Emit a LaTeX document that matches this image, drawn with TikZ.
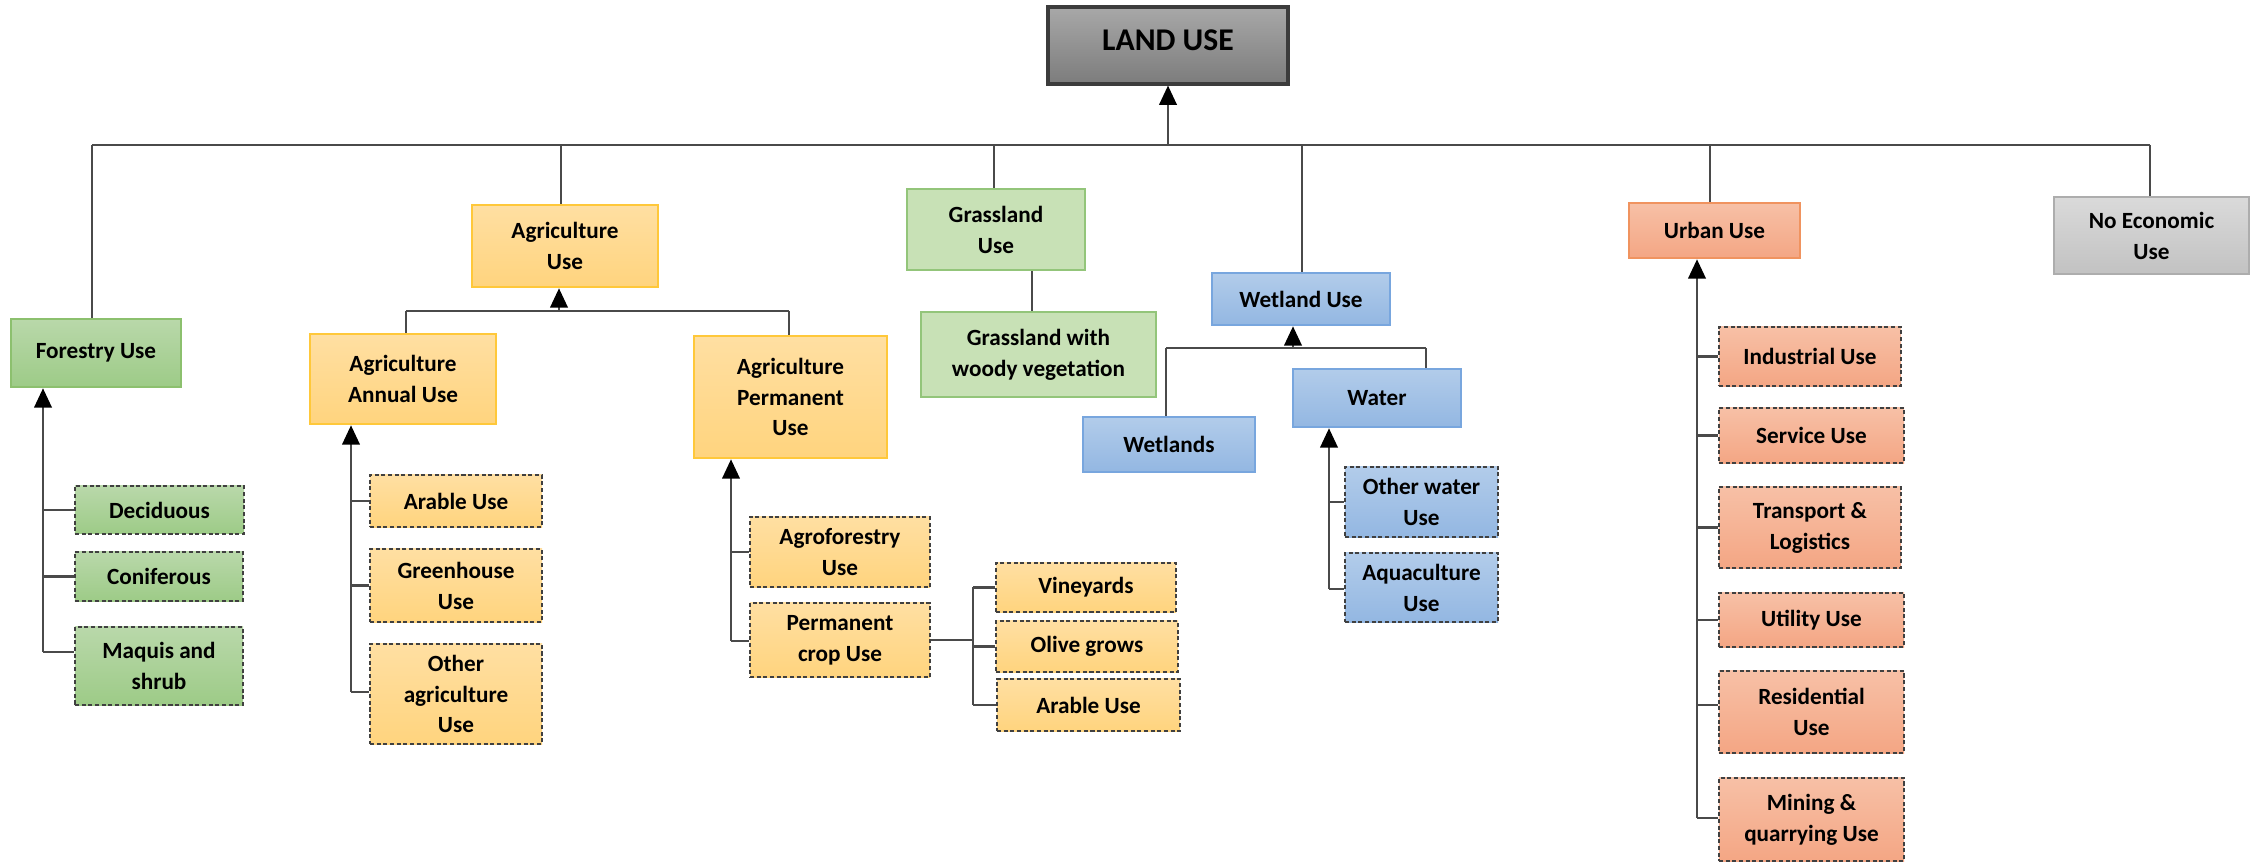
\documentclass[tikz,border=0pt]{standalone}
\usepackage{fontspec}
\setmainfont{Carlito}
\usetikzlibrary{arrows.meta}
\definecolor{grT}{HTML}{B9D8AA}
\definecolor{grB}{HTML}{9DCB87}
\definecolor{grD}{HTML}{8CC06E}
\definecolor{glF}{HTML}{C8E1B6}
\definecolor{glD}{HTML}{93C57A}
\definecolor{agT}{HTML}{FFDFA2}
\definecolor{agB}{HTML}{FFD47E}
\definecolor{agD}{HTML}{FFC83A}
\definecolor{blT}{HTML}{B2CCEA}
\definecolor{blB}{HTML}{93B7E2}
\definecolor{blD}{HTML}{78A6DE}
\definecolor{urT}{HTML}{F7C0A6}
\definecolor{urB}{HTML}{F4A684}
\definecolor{urD}{HTML}{F0935F}
\definecolor{neT}{HTML}{DADADA}
\definecolor{neB}{HTML}{C2C2C2}
\definecolor{neD}{HTML}{ADADAD}
\definecolor{luT}{HTML}{A8A8A8}
\definecolor{luB}{HTML}{7C7C7C}
\definecolor{luD}{HTML}{3C3C3C}
\definecolor{lnC}{HTML}{4A4A4A}
\definecolor{dsC}{HTML}{404040}
\begin{document}
\begin{tikzpicture}[x=0.01cm,y=-0.01cm,
  bx/.style={rectangle, inner sep=0pt, align=center, font=\fontsize{6.6}{8.8}\selectfont\bfseries, line width=0.75pt},
  gn/.style={top color=grT, bottom color=grB, draw=grD},
  gl/.style={fill=glF, draw=glD},
  ag/.style={top color=agT, bottom color=agB, draw=agD},
  bl/.style={top color=blT, bottom color=blB, draw=blD},
  ur/.style={top color=urT, bottom color=urB, draw=urD},
  ne/.style={top color=neT, bottom color=neB, draw=neD},
  dsh/.style={draw=dsC, line width=0.72pt, dash pattern=on 1.15pt off 0.75pt},
  ln/.style={draw=lnC, line width=0.6pt},
  arr/.style={draw=lnC, line width=0.6pt, -{Triangle[width=5pt,length=5.5pt,fill=black,color=black]}}
]
\useasboundingbox (0,0) rectangle (2253,865);

% ---- root ----
\node[bx, top color=luT, bottom color=luB, draw=luD, line width=0.9pt, minimum width=2.40cm, minimum height=0.77cm, font=\fontsize{9}{11}\selectfont\bfseries] (land) at (1168,45.5) {};
\node[font=\fontsize{9}{11}\selectfont\bfseries, inner sep=0pt] (landt) at (1168,40) {LAND USE};

% ---- top level ----
\node[bx,gn,minimum width=1.70cm,minimum height=0.68cm] (fo) at (96,353) {Forestry Use};
\node[bx,ag,minimum width=1.86cm,minimum height=0.82cm] (ag) at (565,246) {Agriculture\\Use};
\node[bx,gl,minimum width=1.78cm,minimum height=0.81cm] (gl) at (996,229.5) {Grassland\\Use};
\node[bx,gl,minimum width=2.35cm,minimum height=0.85cm] (gw) at (1038.5,354.5) {Grassland with\\woody vegetation};
\node[bx,bl,minimum width=1.78cm,minimum height=0.52cm] (we) at (1301,299) {Wetland Use};
\node[bx,ur,minimum width=1.71cm,minimum height=0.55cm] (ur) at (1714.5,230.5) {Urban Use};
\node[bx,ne,minimum width=1.95cm,minimum height=0.77cm] (ne) at (2151.5,235.5) {No Economic\\Use};

% ---- agriculture level 2 ----
\node[bx,ag,minimum width=1.86cm,minimum height=0.90cm] (an) at (403,379) {Agriculture\\Annual Use};
\node[bx,ag,minimum width=1.93cm,minimum height=1.22cm] (pe) at (790.5,397) {Agriculture\\Permanent\\Use};

% ---- wetland level 2 ----
\node[bx,bl,minimum width=1.72cm,minimum height=0.55cm] (wl) at (1169,444.5) {Wetlands};
\node[bx,bl,minimum width=1.68cm,minimum height=0.58cm] (wa) at (1377,398) {Water};

% ---- forestry children ----
\node[bx,gn,dsh,minimum width=1.69cm,minimum height=0.48cm] (dec) at (159.5,510) {Deciduous};
\node[bx,gn,dsh,minimum width=1.68cm,minimum height=0.49cm] (con) at (159,576.5) {Coniferous};
\node[bx,gn,dsh,minimum width=1.68cm,minimum height=0.78cm] (maq) at (159,666) {Maquis and\\shrub};

% ---- annual children ----
\node[bx,ag,dsh,minimum width=1.72cm,minimum height=0.52cm] (ara) at (456,501) {Arable Use};
\node[bx,ag,dsh,minimum width=1.72cm,minimum height=0.73cm] (gre) at (456,585.5) {Greenhouse\\Use};
\node[bx,ag,dsh,minimum width=1.72cm,minimum height=1.00cm] (oag) at (456,694) {Other\\agriculture\\Use};

% ---- permanent children ----
\node[bx,ag,dsh,minimum width=1.80cm,minimum height=0.70cm] (agf) at (840,552) {Agroforestry\\Use};
\node[bx,ag,dsh,minimum width=1.80cm,minimum height=0.74cm] (pc) at (840,640) {Permanent\\crop Use};
\node[bx,ag,dsh,minimum width=1.80cm,minimum height=0.49cm] (vin) at (1086,587.5) {Vineyards};
\node[bx,ag,dsh,minimum width=1.82cm,minimum height=0.51cm] (oli) at (1087,646.5) {Olive grows};
\node[bx,ag,dsh,minimum width=1.83cm,minimum height=0.52cm] (arb) at (1088.5,705) {Arable Use};

% ---- water children ----
\node[bx,bl,dsh,minimum width=1.53cm,minimum height=0.70cm] (owu) at (1421.5,502) {Other water\\Use};
\node[bx,bl,dsh,minimum width=1.53cm,minimum height=0.69cm] (aqu) at (1421.5,587.5) {Aquaculture\\Use};

% ---- urban children ----
\node[bx,ur,dsh,minimum width=1.82cm,minimum height=0.59cm] (ind) at (1810,356.5) {Industrial Use};
\node[bx,ur,dsh,minimum width=1.85cm,minimum height=0.55cm] (ser) at (1811.5,435.5) {Service Use};
\node[bx,ur,dsh,minimum width=1.82cm,minimum height=0.81cm] (tra) at (1810,527.5) {Transport \&\\Logistics};
\node[bx,ur,dsh,minimum width=1.85cm,minimum height=0.54cm] (uti) at (1811.5,620) {Utility Use};
\node[bx,ur,dsh,minimum width=1.85cm,minimum height=0.82cm] (res) at (1811.5,712) {Residential\\Use};
\node[bx,ur,dsh,minimum width=1.85cm,minimum height=0.83cm] (min) at (1811.5,819.5) {Mining \&\\quarrying Use};

% ---- main bus ----
\coordinate (busL) at (92,145);
\coordinate (busR) at (2150,145);
\coordinate (bLand) at (1168,145);
\coordinate (bAg) at (561,145);
\coordinate (bGl) at (994,145);
\coordinate (bWe) at (1302,145);
\coordinate (bUr) at (1710,145);
\draw[ln, line width=0.75pt] (busL) -- (busR);
\draw[arr] (bLand) -- (land.south);
\draw[ln] (busL) -- (busL |- fo.north);
\draw[ln] (bAg) -- (bAg |- ag.north);
\draw[ln] (bGl) -- (bGl |- gl.north);
\draw[ln] (bWe) -- (bWe |- we.north);
\draw[ln] (bUr) -- (bUr |- ur.north);
\draw[ln] (busR) -- (busR |- ne.north);

% ---- grassland link ----
\coordinate (gk) at (1032,290);
\draw[ln] (gk |- gl.south) -- (gk |- gw.north);

% ---- agriculture sub bus ----
\coordinate (aL) at (406,311);
\coordinate (aR) at (789,311);
\coordinate (aM) at (559,311);
\draw[ln, line width=0.75pt] (aL) -- (aR);
\draw[arr] (aM) -- (aM |- ag.south);
\draw[ln] (aL) -- (aL |- an.north);
\draw[ln] (aR) -- (aR |- pe.north);

% ---- wetland sub bus ----
\coordinate (wL) at (1166,348);
\coordinate (wR) at (1426,348);
\coordinate (wM) at (1293,348);
\draw[ln, line width=0.75pt] (wL) -- (wR);
\draw[arr] (wM) -- (wM |- we.south);
\draw[ln] (wL) -- (wL |- wl.north);
\draw[ln] (wR) -- (wR |- wa.north);

% ---- forestry children ----
\coordinate (vF) at (43,652);
\draw[arr] (vF) -- (vF |- fo.south);
\foreach \n in {dec,con} \draw[ln] (\n.west -| vF) -- (\n.west);
\draw[ln] (vF) -- (vF -| maq.west);

% ---- annual children ----
\coordinate (vA) at (351,692);
\draw[arr] (vA) -- (vA |- an.south);
\foreach \n in {ara,gre} \draw[ln] (\n.west -| vA) -- (\n.west);
\draw[ln] (vA) -- (vA -| oag.west);

% ---- permanent children ----
\coordinate (vP) at (731,641);
\draw[arr] (vP) -- (vP |- pe.south);
\draw[ln] (agf.west -| vP) -- (agf.west);
\draw[ln] (vP) -- (vP -| pc.west);
\coordinate (vQ) at (973,589);
\draw[ln] (pc.east) -- (pc.east -| vQ);
\draw[ln] (vin.west -| vQ) -- (arb.west -| vQ);
\foreach \n in {vin,oli,arb} \draw[ln] (\n.west -| vQ) -- (\n.west);

% ---- water children ----
\coordinate (vW) at (1329,589);
\draw[arr] (vW) -- (vW |- wa.south);
\draw[ln] (owu.west -| vW) -- (owu.west);
\draw[ln] (vW) -- (vW -| aqu.west);

% ---- urban children ----
\coordinate (vU) at (1697,818);
\coordinate (tRes) at (1697,705);
\draw[arr] (vU) -- (vU |- ur.south);
\foreach \n in {ind,ser,tra,uti} \draw[ln] (\n.west -| vU) -- (\n.west);
\draw[ln] (tRes) -- (tRes -| res.west);
\draw[ln] (vU) -- (vU -| min.west);
\end{tikzpicture}
\end{document}
